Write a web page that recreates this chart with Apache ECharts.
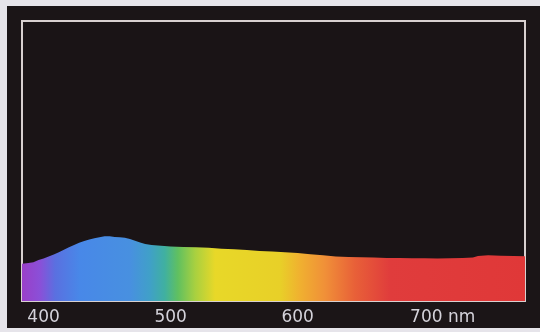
<!DOCTYPE html>
<html>
<head>
<meta charset="utf-8">
<style>
  html, body { margin: 0; padding: 0; background: #e6e4ea; }
  #chart { width: 540px; height: 332px; }
</style>
<script src="https://cdn.jsdelivr.net/npm/echarts@6/dist/echarts.min.js"></script>
</head>
<body>
<div id="chart"></div>
<script>
// Wavelengths (nm) and relative intensity
const wavelengths = [383,388,392,396,400,404,408,412,416,420,424,428,432,436,440,444,448,452,456,460,464,468,472,476,480,485,490,495,500,510,520,530,540,550,560,570,580,590,600,610,620,630,640,650,660,670,680,690,700,710,720,730,738,742,750,760,770,779];
const intensity   = [13.3,13.6,13.8,14.6,15.2,15.9,16.6,17.4,18.3,19.2,20.0,20.8,21.4,22.0,22.4,22.8,23.1,23.1,22.9,22.8,22.6,22.1,21.5,20.9,20.4,20.0,19.8,19.6,19.5,19.3,19.2,19.0,18.7,18.5,18.2,17.9,17.7,17.4,17.1,16.7,16.3,15.9,15.7,15.6,15.5,15.4,15.4,15.3,15.3,15.2,15.3,15.4,15.5,16.1,16.3,16.2,16.1,16.0];
const tickValues  = [400, 500, 600, 700];
const unitLabel   = 'nm';

const chart = echarts.init(document.getElementById('chart'), null, { renderer: 'canvas' });

const spectrum = new echarts.graphic.LinearGradient(0, 0, 1, 0, [
  { offset: 0.000, color: '#9a3fc8' },
  { offset: 0.036, color: '#8a50d8' },
  { offset: 0.066, color: '#5a70e0' },
  { offset: 0.115, color: '#4888e8' },
  { offset: 0.215, color: '#4890e0' },
  { offset: 0.254, color: '#40a0c8' },
  { offset: 0.284, color: '#40b0a0' },
  { offset: 0.310, color: '#60c060' },
  { offset: 0.344, color: '#a8d040' },
  { offset: 0.384, color: '#e8d828' },
  { offset: 0.513, color: '#e8d028' },
  { offset: 0.553, color: '#f0b030' },
  { offset: 0.602, color: '#f09038' },
  { offset: 0.662, color: '#e86038' },
  { offset: 0.732, color: '#e03c3c' },
  { offset: 1.000, color: '#e03838' }
]);

chart.setOption({
  animation: false,
  backgroundColor: '#e6e4ea',
  graphic: [{
    type: 'rect',
    z: -10,
    silent: true,
    shape: { x: 7, y: 6, width: 533, height: 322 },
    style: { fill: '#1b1517' }
  }],
  grid: {
    left: 22, right: 15, top: 21, bottom: 31,
    show: true,
    backgroundColor: '#1a1416',
    borderColor: '#d8d0d0',
    borderWidth: 2
  },
  xAxis: {
    type: 'value',
    min: 383,
    max: 779,
    axisLine: { show: false },
    axisTick: { show: false },
    splitLine: { show: false },
    axisLabel: {
      customValues: tickValues,
      margin: 8,
      color: '#d4d2da',
      fontFamily: 'DejaVu Sans',
      fontSize: 17,
      formatter: function (v) {
        if (v === 700) return '{pad|}{n|700}{u| ' + unitLabel + '}';
        return '{n|' + v + '}';
      },
      rich: {
        pad: { width: 36 },
        n: { color: '#d4d2da', fontFamily: 'DejaVu Sans', fontSize: 17 },
        u: { color: '#d4d2da', fontFamily: 'DejaVu Sans', fontSize: 17 }
      }
    }
  },
  yAxis: {
    type: 'value',
    min: 0,
    max: 100,
    show: false
  },
  series: [{
    type: 'line',
    data: wavelengths.map((w, i) => [w, intensity[i]]),
    symbol: 'none',
    lineStyle: { width: 0 },
    areaStyle: { color: spectrum, opacity: 1 },
    z: 2
  }]
});
</script>
</body>
</html>
